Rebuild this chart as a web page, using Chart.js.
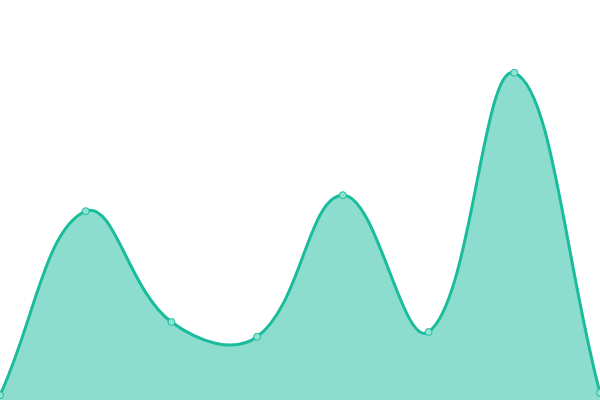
<!DOCTYPE html>
<html>
<head>
<meta charset="utf-8">
<script src="https://cdn.jsdelivr.net/npm/chart.js@4"></script>
<style>
html,body{margin:0;padding:0;background:#fff;}
#wrap{width:600px;height:400px;}
</style>
</head>
<body>
<div id="wrap"><canvas id="c" width="600" height="400"></canvas></div>
<script>
const categories = ['A', 'B', 'C', 'D', 'E', 'F', 'G', 'H'];
const seriesValues = [1.2, 47.2, 19.5, 15.8, 51.2, 17, 81.8, 1.8];
const yMin = 0;
const yMax = 100;

new Chart(document.getElementById('c'), {
  type: 'line',
  data: {
    labels: categories,
    datasets: [{
      data: seriesValues,
      fill: true,
      tension: 0.4,
      borderColor: '#1abc9c',
      backgroundColor: 'rgba(26,188,156,0.5)',
      borderWidth: 3,
      pointRadius: 3.5,
      pointBorderWidth: 1,
      pointBackgroundColor: '#8fe3d2',
      pointBorderColor: '#1abc9c'
    }]
  },
  options: {
    responsive: false,
    animation: false,
    layout: { padding: 0, autoPadding: false },
    plugins: { legend: { display: false }, tooltip: { enabled: false } },
    scales: {
      x: { display: false },
      y: { display: false, min: yMin, max: yMax }
    }
  }
});
</script>
</body>
</html>
